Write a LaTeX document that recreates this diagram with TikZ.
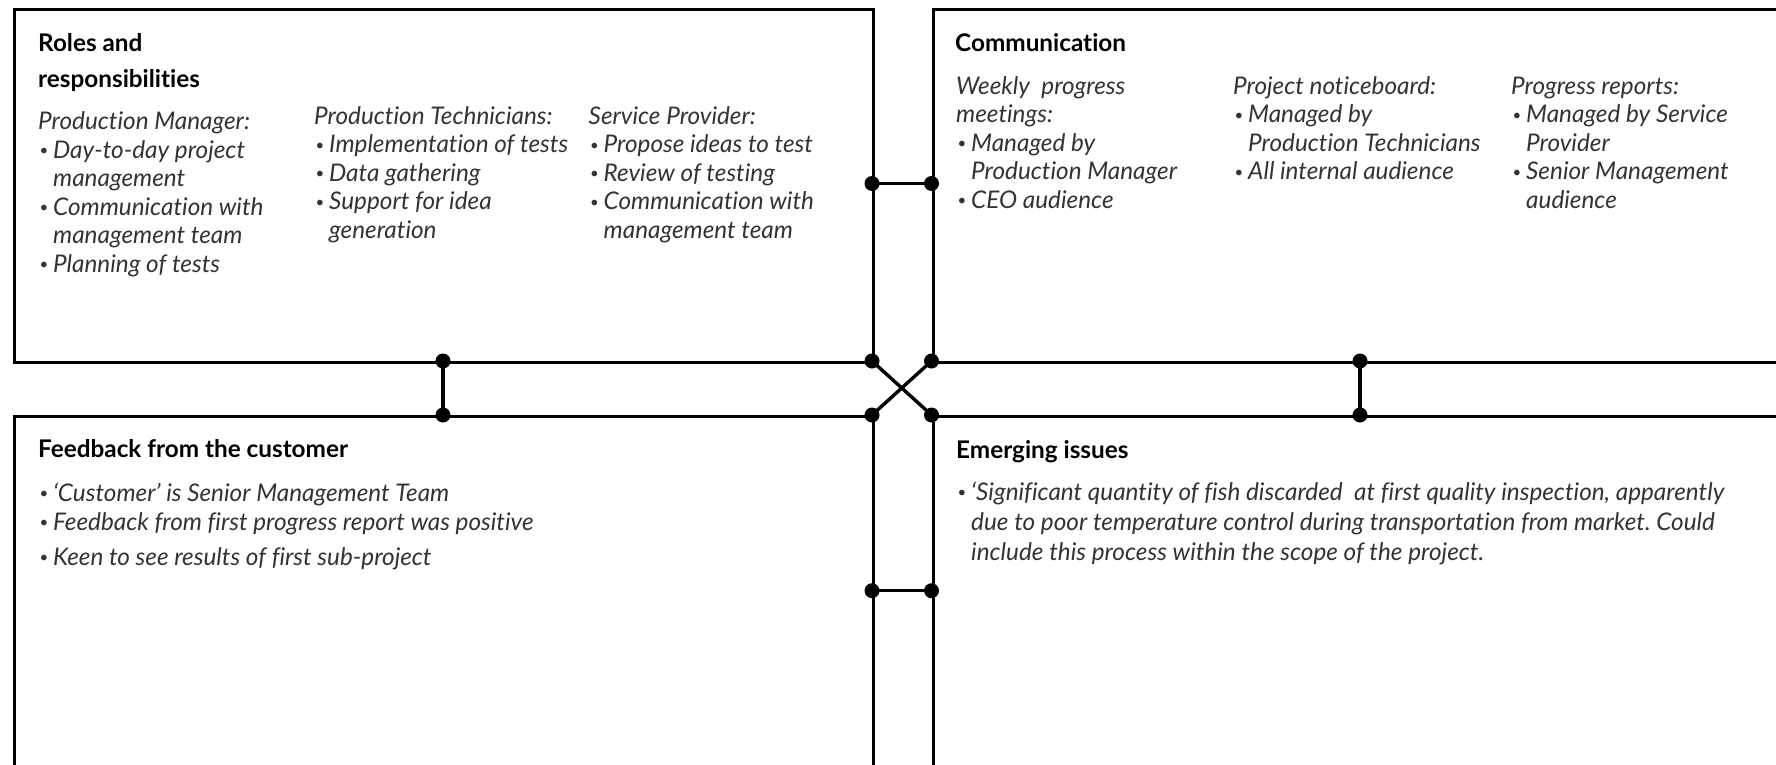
\documentclass[tikz,border=0pt]{standalone}
\usepackage{fontspec}
\usepackage{graphicx}
\setmainfont{Lato}[Ligatures=NoCommon]
\frenchspacing
\definecolor{txtgray}{HTML}{333333}
\newcommand{\bodyfnt}{\fontsize{24.3}{28}\selectfont\itshape}
\newcommand{\headfnt}{\fontsize{24.3}{28}\selectfont\bfseries}
\newcommand{\bitem}{\makebox[15pt][l]{\hspace*{1.5pt}\raisebox{2.2pt}{\scalebox{0.62}{•}}}}
\newcommand{\indnt}{\hspace*{15pt}}
\tikzset{
  box/.style={draw=black, line width=3.4pt, rectangle, inner sep=0pt, anchor=north west},
  head/.style={anchor=base west, inner sep=0pt, font=\headfnt, text=black},
  body/.style={anchor=base west, inner sep=0pt, font=\bodyfnt, text=txtgray},
  jdot/.style={circle, fill=black, inner sep=0pt, minimum size=15pt},
  link/.style={line width=3.4pt, draw=black},
}
\begin{document}
\begin{tikzpicture}[x=1pt,y=-1pt]
\useasboundingbox (0,0) rectangle (1776,764);
\clip (0,0) rectangle (1776,764);
\fill[white] (0,0) rectangle (1776,764);
% boxes
\node[box, minimum width=859.5pt, minimum height=353pt] (roles) at (12.5,8) {};
\node[box, minimum width=868.5pt, minimum height=353pt] (comm) at (931.5,8) {};
\node[box, minimum width=859.5pt, minimum height=375pt] (feed) at (12.5,415) {};
\node[box, minimum width=868.5pt, minimum height=375pt] (issues) at (931.5,415) {};
% junction dots
\node[jdot] (d1) at (872,183.5) {};
\node[jdot] (d2) at (931.5,183.5) {};
\node[jdot] (d3) at (872,590.7) {};
\node[jdot] (d4) at (931.5,590.7) {};
\node[jdot] (d5) at (443,361) {};
\node[jdot] (d6) at (443,415) {};
\node[jdot] (d7) at (1360,361) {};
\node[jdot] (d8) at (1360,415) {};
\node[jdot] (c1) at (872,361) {};
\node[jdot] (c2) at (931.5,361) {};
\node[jdot] (c3) at (872,415) {};
\node[jdot] (c4) at (931.5,415) {};
% connectors
\draw[link] (d1.center) -- (d2.center);
\draw[link] (d3.center) -- (d4.center);
\draw[link] (d5.center) -- (d6.center);
\draw[link] (d7.center) -- (d8.center);
\draw[link] (c1.center) -- (c4.center);
\draw[link] (c2.center) -- (c3.center);
% Roles and responsibilities
\node[head] (h1a) at (38,51.5) {Roles and};
\node[head] (h1b) at (38,87) {responsibilities};
\node[body] (a0) at (38,129.5) {Production Manager:};
\node[body] (a1) at (38,158) {\bitem Day-to-day project};
\node[body] (a2) at (38,186.5) {\indnt management};
\node[body] (a3) at (38,215) {\bitem Communication with};
\node[body] (a4) at (38,243.5) {\indnt management team};
\node[body] (a5) at (38,272) {\bitem Planning of tests};
\node[body] (b0) at (314,124) {Production Technicians:};
\node[body] (b1) at (314,152.5) {\bitem Implementation of tests};
\node[body] (b2) at (314,181) {\bitem Data gathering};
\node[body] (b3) at (314,209.5) {\bitem Support for idea};
\node[body] (b4) at (314,238) {\indnt generation};
\node[body] (e0) at (588.5,124) {Service Provider:};
\node[body] (e1) at (588.5,152.5) {\bitem Propose ideas to test};
\node[body] (e2) at (588.5,181) {\bitem Review of testing};
\node[body] (e3) at (588.5,209.5) {\bitem Communication with};
\node[body] (e4) at (588.5,238) {\indnt management team};
% Communication
\node[head] (h2) at (955,51.5) {Communication};
\node[body] (f0) at (956,94) {Weekly\ \ progress};
\node[body] (f1) at (956,122.5) {meetings:};
\node[body] (f2) at (956,151) {\bitem Managed by};
\node[body] (f3) at (956,179.5) {\indnt Production Manager};
\node[body] (f4) at (956,208) {\bitem CEO audience};
\node[body] (g0) at (1233,94) {Project noticeboard:};
\node[body] (g1) at (1233,122.5) {\bitem Managed by};
\node[body] (g2) at (1233,151) {\indnt Production Technicians};
\node[body] (g3) at (1233,179.5) {\bitem All internal audience};
\node[body] (k0) at (1511,94) {Progress reports:};
\node[body] (k1) at (1511,122.5) {\bitem Managed by Service};
\node[body] (k2) at (1511,151) {\indnt Provider};
\node[body] (k3) at (1511,179.5) {\bitem Senior Management};
\node[body] (k4) at (1511,208) {\indnt audience};
% Feedback
\node[head] (h3) at (38,457) {Feedback from the customer};
\node[body] (m1) at (38,501) {\bitem ‘Customer’ is Senior Management Team};
\node[body] (m2) at (38,530) {\bitem Feedback from first progress report was positive};
\node[body] (m3) at (38,565) {\bitem Keen to see results of first sub-project};
% Emerging issues
\node[head] (h4) at (956,458) {Emerging issues};
\node[body] (n1) at (956,500) {\bitem ‘Significant quantity of fish discarded\ \ at first quality inspection, apparently};
\node[body] (n2) at (956,530) {\indnt due to poor temperature control during transportation from market. Could};
\node[body] (n3) at (956,560) {\indnt include this process within the scope of the project.};
\end{tikzpicture}
\end{document}
